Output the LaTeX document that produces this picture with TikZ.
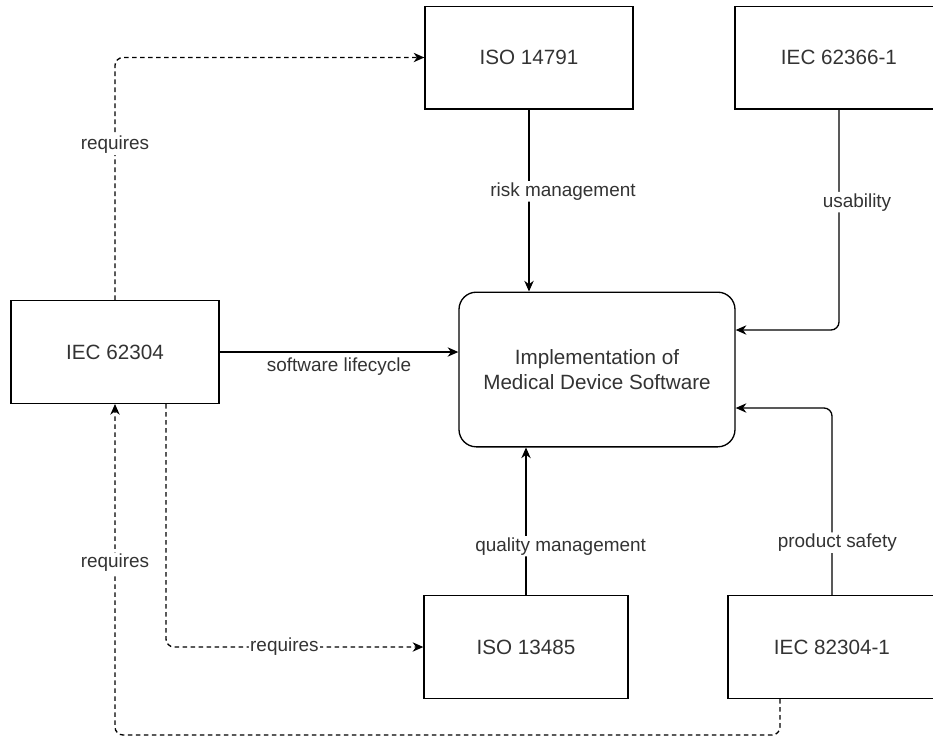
\documentclass[tikz,border=0pt]{standalone}
\usepackage{fontspec}
\setmainfont{Liberation Sans}
\usetikzlibrary{arrows.meta, positioning, calc}

\begin{document}
\begin{tikzpicture}[
  x=0.75pt, y=-0.75pt,
  stdbox/.style = {rectangle, draw, line width=1pt, minimum width=156pt, minimum height=77pt, text=black!80, font=\fontsize{15.5}{18.75}\selectfont, align=center},
  core/.style = {stdbox, rounded corners=13pt, minimum width=207pt, minimum height=116pt},
  arrow/.style = {-{Stealth[length=8pt, width=7pt, inset=2.5pt]}, line width=1pt, rounded corners=6pt},
  dep/.style = {arrow, dash pattern=on 3.5pt off 2.5pt},
  lbl/.style = {fill=white, text=black!80, font=\fontsize{14.2}{17}\selectfont, inner sep=1pt}
]

\clip (0,0) rectangle (933,736);

\node[stdbox] (iec62304) at (115,352) {IEC 62304};
\node[stdbox] (iso14791) at (529,57.5) {ISO 14791};
\node[stdbox] (iec62366) at (839,57.5) {IEC 62366-1};
\node[core] (impl) at (597,369.5) {Implementation of\\Medical Device Software};
\node[stdbox, minimum width=153pt] (iso13485) at (526,647) {ISO 13485};
\node[stdbox] (iec82304) at (832,647) {IEC 82304-1};

\draw[arrow] (iso14791.south) -- node[lbl, pos=0.45, xshift=25.5pt] {risk management} (iso14791.south |- impl.north);
\draw[arrow] (iec62366.south) |- node[lbl, pos=0.21, xshift=13.5pt] {usability} ($(impl.east)+(0,-39.5)$);
\draw[arrow] (iec82304.north) |- node[lbl, pos=0.14, xshift=4pt] {product safety} ($(impl.east)+(0,38.5)$);
\draw[arrow] (iso13485.north) -- node[lbl, pos=0.33, xshift=26pt] {quality management} (iso13485.north |- impl.south);
\draw[arrow] (iec62304.east) -- node[lbl, below=3pt, fill=none] {software lifecycle} (iec62304.east -| impl.west);

\draw[dep] (iec62304.north) |- node[lbl, pos=0.32] {requires} (iso14791.west);
\draw[dep] ($(iec62304.south)+(51,0)$) |- node[lbl, pos=0.73] {requires} (iso13485.west);
\draw[dep] ($(iec82304.south)+(-52,0)$) |- ($(iec62304.south)+(0,331)$) -- node[lbl, pos=0.52] {requires} (iec62304.south);

\end{tikzpicture}
\end{document}
